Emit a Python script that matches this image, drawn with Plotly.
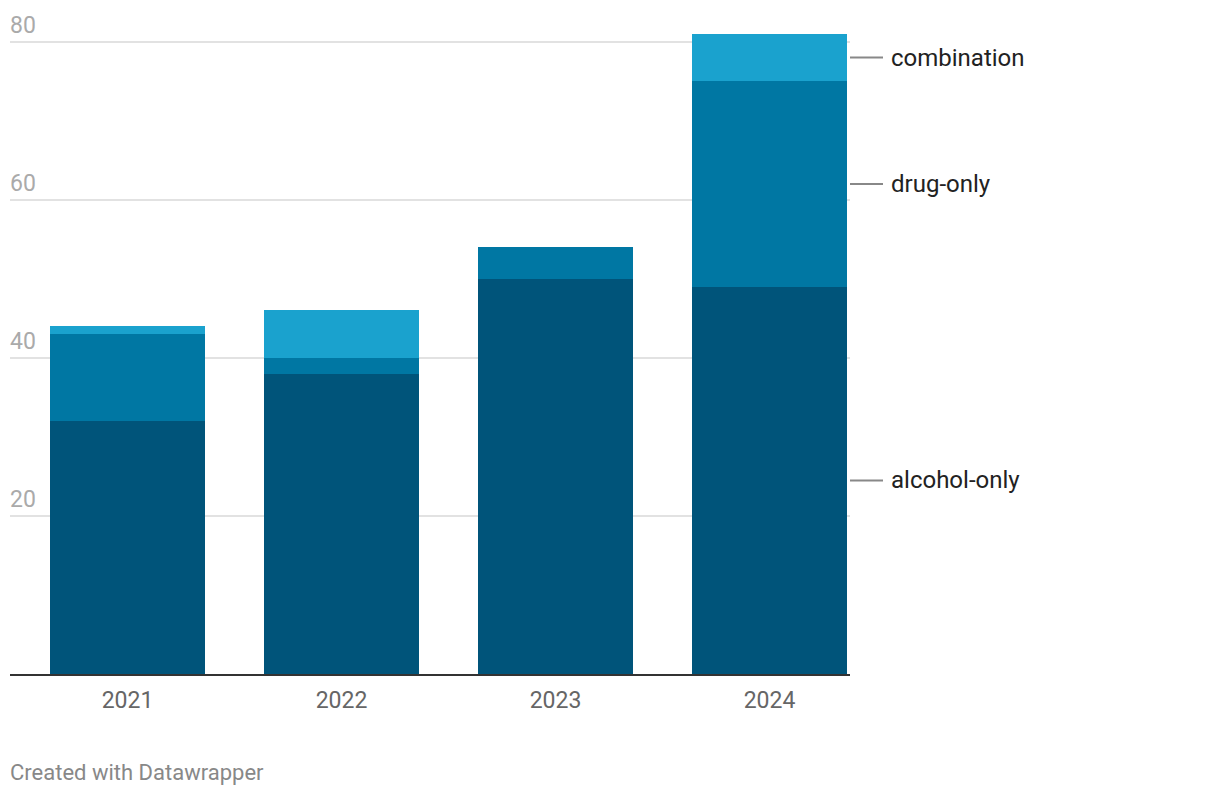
import plotly.graph_objects as go

years = ["2021", "2022", "2023", "2024"]
alcohol_only = [32, 38, 50, 49]
drug_only = [11, 2, 4, 26]
combination = [1, 6, 0, 6]

series = [
    ("alcohol-only", alcohol_only, "#00547a"),
    ("drug-only", drug_only, "#0077a3"),
    ("combination", combination, "#1aa2ce"),
]

y_ticks = [20, 40, 60, 80]

fig = go.Figure()
for name, vals, color in series:
    fig.add_trace(go.Bar(
        x=years, y=vals, name=name,
        marker=dict(color=color, line=dict(width=0)),
        hoverinfo="x+y+name",
    ))

PLOT_W = 840

# direct labels at the right, aligned to the middle of the last bar's segments
base = 0
last = len(years) - 1
for name, vals, color in series:
    mid = base + vals[last] / 2
    base += vals[last]
    fig.add_shape(type="line", xref="paper", yref="y",
                  x0=1.0, x1=1.0 + 33 / PLOT_W, y0=mid, y1=mid,
                  line=dict(color="#888888", width=2))
    fig.add_annotation(xref="paper", yref="y", x=1.0 + 39 / PLOT_W, y=mid,
                       text=name, showarrow=False, xanchor="left", yanchor="middle",
                       font=dict(family="Roboto", size=24, color="#222222"))

# y tick labels sitting above their gridlines
for v in y_ticks:
    fig.add_annotation(xref="paper", yref="y", x=0, y=v, text=str(v),
                       showarrow=False, xanchor="left", yanchor="bottom",
                       xshift=-2, yshift=1,
                       font=dict(family="Roboto", size=23, color="#aaaaaa"))

fig.add_annotation(xref="paper", yref="paper", x=0, y=-0.152,
                   text="Created with Datawrapper", showarrow=False,
                   xanchor="left", yanchor="middle", xshift=-2,
                   font=dict(family="Roboto", size=22, color="#888888"))

fig.update_layout(
    width=1220, height=798,
    margin=dict(l=2, r=378, t=18, b=132),
    paper_bgcolor="white", plot_bgcolor="white",
    barmode="stack", bargap=0.276,
    showlegend=False,
    font=dict(family="Roboto"),
    xaxis=dict(
        type="category", range=[-0.549, 3.376],
        showgrid=False, showline=True, linecolor="#333333", linewidth=2,
        ticks="", tickfont=dict(family="Roboto", size=23, color="#666666"),
        ticklabelstandoff=4,
    ),
    yaxis=dict(
        range=[0, 82], tickvals=y_ticks,
        showgrid=True, gridcolor="#e2e2e2", gridwidth=1.5,
        zeroline=False, showline=False, ticks="",
        showticklabels=False,
    ),
)

fig.write_html("out.html")
